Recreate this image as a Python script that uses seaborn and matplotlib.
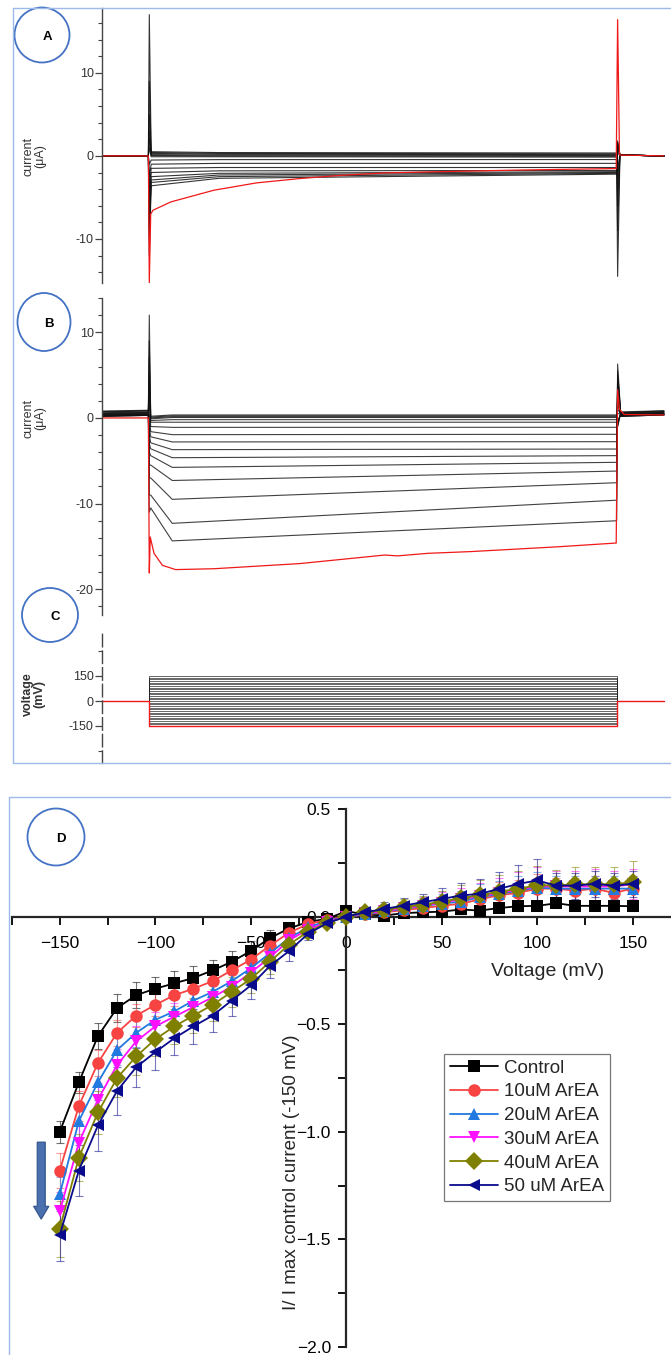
import matplotlib
matplotlib.use("Agg")
import matplotlib.pyplot as plt
from matplotlib.lines import Line2D
from matplotlib.patches import Ellipse, FancyArrow
from matplotlib.ticker import MultipleLocator
import pandas as pd
import seaborn as sns

W, H = 671, 1355

# ---------------- panel A: current traces (control) ----------------
# distinct black sweeps: onset spike, level after spike, level at 250 ms, level at end, offset spike
a_on = [17.0, 9.0, 5.0, 3.0, 2.0, 1.0, -1.0, -2.5, -4.0, -5.5, -7.0, -8.5, -10.0, -12.0]
a_start = [0.5, 0.4, 0.3, 0.15, 0.05, -0.1, -0.5, -1.0, -1.5, -2.0, -2.5, -2.9, -3.2, -3.6]
a_mid = [0.4, 0.3, 0.2, 0.1, 0.0, -0.1, -0.45, -0.9, -1.4, -1.8, -2.1, -2.3, -2.5, -2.7]
a_end = [0.35, 0.25, 0.15, 0.05, -0.05, -0.15, -0.44, -0.9, -1.4, -1.75, -1.9, -2.0, -2.1, -2.2]
a_off = [-14.5, -9.0, -6.0, -4.0, -2.5, -1.5, 0.3, 0.8, 1.2, 1.5, 1.8, 1.6, 1.4, 1.2]
# red sweep (-150 mV)
red_a_t = [0, 99, 101, 104, 109, 147, 239, 330, 422, 513, 604, 696, 879, 1098, 1101, 1105, 1200]
red_a_i = [0, 0, -15.3, -7.0, -6.54, -5.54, -4.13, -3.25, -2.73, -2.33, -2.05, -1.93, -1.72, -1.52, 16.4, 0.1, 0]

# ---------------- panel B: current traces (ArEA) ----------------
b_pre = [0.8, 0.75, 0.7, 0.6, 0.55, 0.5, 0.45, 0.4, 0.35, 0.3, 0.3, 0.25, 0.25, 0.2, 0.2, 0.2]
b_on = [12.0, 9.0, 7.0, 5.0, 3.5, 2.5, 1.5, 0.5, -1.0, -2.0, -3.0, -4.0, -5.5, -7.0, -9.0, -11.0]
b_start = [0.2, 0.1, 0.0, -0.1, -0.3, -0.5, -1.0, -1.6, -2.2, -2.9, -3.6, -4.4, -5.5, -7.0, -9.0, -10.5]
b_min = [0.35, 0.25, 0.15, 0.05, -0.2, -0.5, -1.1, -1.95, -2.8, -3.7, -4.64, -5.77, -7.3, -9.5, -12.3, -14.35]
b_end = [0.35, 0.25, 0.15, 0.05, -0.2, -0.5, -1.09, -1.91, -2.77, -3.63, -4.4, -5.18, -6.2, -7.56, -9.6, -12.0]
b_off = [-1.0, -1.0, -0.5, -0.5, 0.5, 1.0, 1.5, 2.0, 2.5, 3.0, 3.5, 4.0, 4.5, 5.0, 5.5, 6.3]
b_post = [0.7, 0.65, 0.6, 0.55, 0.5, 0.45, 0.4, 0.35, 0.3, 0.3, 0.3, 0.25, 0.25, 0.2, 0.2, 0.2]
red_b_t = [0, 99, 101, 103, 111, 129, 157, 239, 422, 604, 631, 696, 787, 970, 1098, 1101, 1105, 1115, 1200]
red_b_i = [0, 0, -18.1, -13.9, -15.8, -17.2, -17.7, -17.6, -17.0, -16.0, -16.1, -15.8, -15.6, -15.05, -14.6, 3.3, 1.0, 0.4, 0.35]

# ---------------- panel D: normalised I/V ----------------
voltage = [-150, -140, -130, -120, -110, -100, -90, -80, -70, -60, -50, -40, -30, -20, -10, 0,
           10, 20, 30, 40, 50, 60, 70, 80, 90, 100, 110, 120, 130, 140, 150]
control = [-1.00, -0.77, -0.555, -0.425, -0.365, -0.335, -0.31, -0.285, -0.25, -0.21, -0.16, -0.10, -0.055, -0.025, -0.01,
           0.025, 0.01, 0.005, 0.016, 0.02, 0.023, 0.033, 0.028, 0.04, 0.048, 0.05, 0.062, 0.05, 0.05, 0.05, 0.048]
arEA10 = [-1.18, -0.88, -0.68, -0.54, -0.46, -0.41, -0.365, -0.335, -0.30, -0.25, -0.20, -0.135, -0.075, -0.035, -0.015,
          0.0, 0.01, 0.02, 0.03, 0.04, 0.05, 0.06, 0.08, 0.10, 0.11, 0.13, 0.13, 0.12, 0.13, 0.11, 0.13]
arEA20 = [-1.29, -0.95, -0.77, -0.62, -0.54, -0.48, -0.44, -0.39, -0.35, -0.30, -0.24, -0.17, -0.10, -0.05, -0.02,
          0.0, 0.01, 0.025, 0.035, 0.05, 0.06, 0.07, 0.09, 0.105, 0.12, 0.135, 0.13, 0.13, 0.13, 0.13, 0.13]
arEA30 = [-1.37, -1.05, -0.85, -0.69, -0.58, -0.51, -0.465, -0.42, -0.375, -0.325, -0.26, -0.19, -0.11, -0.06, -0.025,
          0.0, 0.015, 0.025, 0.04, 0.05, 0.065, 0.08, 0.095, 0.11, 0.125, 0.14, 0.14, 0.14, 0.14, 0.14, 0.15]
arEA40 = [-1.45, -1.12, -0.91, -0.75, -0.65, -0.57, -0.51, -0.46, -0.41, -0.35, -0.29, -0.21, -0.13, -0.07, -0.03,
          0.0, 0.02, 0.03, 0.045, 0.055, 0.07, 0.085, 0.10, 0.115, 0.13, 0.145, 0.145, 0.15, 0.15, 0.15, 0.16]
arEA50 = [-1.48, -1.18, -0.97, -0.81, -0.70, -0.63, -0.565, -0.51, -0.46, -0.39, -0.32, -0.23, -0.16, -0.08, -0.03,
          0.0, 0.02, 0.036, 0.051, 0.067, 0.082, 0.098, 0.106, 0.129, 0.152, 0.168, 0.144, 0.144, 0.152, 0.144, 0.152]

ctrl_err = [0.05, 0.05, 0.06, 0.065, 0.06, 0.055, 0.055, 0.055, 0.05, 0.05, 0.045, 0.04, 0.03, 0.02, 0.015,
            0.01, 0.01, 0.01, 0.015, 0.015, 0.02, 0.02, 0.02, 0.02, 0.02, 0.02, 0.02, 0.02, 0.02, 0.02, 0.02]
err10 = [0.08, 0.07, 0.06, 0.06, 0.055, 0.05, 0.05, 0.05, 0.05, 0.045, 0.045, 0.04, 0.03, 0.02, 0.015,
         0.01, 0.01, 0.02, 0.03, 0.03, 0.04, 0.05, 0.05, 0.06, 0.06, 0.07, 0.05, 0.06, 0.06, 0.06, 0.06]
err20 = [0.08, 0.075, 0.07, 0.07, 0.065, 0.06, 0.06, 0.06, 0.06, 0.055, 0.05, 0.045, 0.035, 0.025, 0.015,
         0.01, 0.015, 0.02, 0.03, 0.035, 0.045, 0.05, 0.06, 0.06, 0.07, 0.07, 0.06, 0.06, 0.06, 0.06, 0.06]
err30 = [0.09, 0.08, 0.075, 0.075, 0.07, 0.065, 0.065, 0.065, 0.06, 0.06, 0.055, 0.05, 0.04, 0.03, 0.02,
         0.01, 0.015, 0.02, 0.03, 0.04, 0.05, 0.055, 0.06, 0.07, 0.08, 0.09, 0.07, 0.07, 0.08, 0.07, 0.07]
err40 = [0.13, 0.11, 0.1, 0.09, 0.085, 0.08, 0.08, 0.08, 0.075, 0.07, 0.065, 0.055, 0.04, 0.03, 0.02,
         0.01, 0.02, 0.03, 0.035, 0.04, 0.05, 0.06, 0.07, 0.08, 0.08, 0.09, 0.07, 0.08, 0.08, 0.08, 0.1]
err50 = [0.12, 0.12, 0.12, 0.11, 0.09, 0.085, 0.08, 0.08, 0.075, 0.07, 0.065, 0.055, 0.045, 0.03, 0.02,
         0.01, 0.02, 0.03, 0.035, 0.04, 0.05, 0.06, 0.07, 0.08, 0.09, 0.1, 0.06, 0.06, 0.06, 0.06, 0.06]

groups = ["Control", "10uM ArEA", "20uM ArEA", "30uM ArEA", "40uM ArEA", "50 uM ArEA"]
means = [control, arEA10, arEA20, arEA30, arEA40, arEA50]
errs = [ctrl_err, err10, err20, err30, err40, err50]
colors = ["#000000", "#F84343", "#2279E0", "#FF10FF", "#808000", "#0A0A8C"]
markers = ["s", "o", "^", "v", "D", "<"]

sns.set_style("ticks")
plt.rcParams["font.family"] = ["Liberation Sans", "DejaVu Sans"]


def frect(x0, y0, x1, y1):
    return [x0 / W, 1 - y1 / H, (x1 - x0) / W, (y1 - y0) / H]


def fxy(x, y):
    return (x / W, 1 - y / H)


def trace_style(ax, lims, major, minor, labels):
    ax.set_xlim(0, 1215)
    ax.set_ylim(*lims)
    for s in ["top", "right", "bottom"]:
        ax.spines[s].set_visible(False)
    ax.spines["left"].set_color("#444444")
    ax.spines["left"].set_linewidth(1.0)
    ax.set_xticks([])
    ax.set_yticks(major)
    ax.set_yticklabels(labels)
    ax.yaxis.set_minor_locator(MultipleLocator(minor))
    ax.tick_params(axis="y", which="major", length=5, width=0.9, colors="#444444",
                   labelsize=9, labelcolor="#333333", pad=1)
    ax.tick_params(axis="y", which="minor", length=3, width=0.8, colors="#444444")
    ax.set_xlabel("")
    ax.set_ylabel("")
    ax.patch.set_alpha(0)


fig = plt.figure(figsize=(W / 100, H / 100), dpi=100)

# ---- panel A
rows = []
for k in range(len(a_end)):
    t = [0, 99, 101, 105, 250, 1099, 1101, 1106, 1200]
    v = [0, 0, a_on[k], a_start[k], a_mid[k], a_end[k], a_off[k], 0.1, 0]
    rows.append(pd.DataFrame({"t": t, "i": v, "sweep": k}))
dfA = pd.concat(rows)
axA = fig.add_axes(frect(102, 8, 671, 283))
sns.lineplot(data=dfA, x="t", y="i", units="sweep", estimator=None, sort=False,
             color="#111111", lw=0.8, alpha=0.85, ax=axA, legend=False)
sns.lineplot(x=red_a_t, y=red_a_i, sort=False, estimator=None, color="#F01818", lw=0.9, ax=axA)
trace_style(axA, (-15.3, 17.8), [-10, 0, 10], 2, ["-10", "0", "10"])

# ---- panel B
rows = []
for k in range(len(b_end)):
    t = [0, 99, 101, 104, 150, 1099, 1101, 1108, 1200]
    v = [b_pre[k], b_pre[k] + 0.1, b_on[k], b_start[k], b_min[k], b_end[k], b_off[k],
         b_post[k], b_post[k] + 0.15]
    rows.append(pd.DataFrame({"t": t, "i": v, "sweep": k}))
dfB = pd.concat(rows)
axB = fig.add_axes(frect(102, 298, 671, 615))
sns.lineplot(data=dfB, x="t", y="i", units="sweep", estimator=None, sort=False,
             color="#111111", lw=0.8, alpha=0.8, ax=axB, legend=False)
sns.lineplot(x=red_b_t, y=red_b_i, sort=False, estimator=None, color="#F01818", lw=0.9, ax=axB)
trace_style(axB, (-23.0, 14.0), [-20, -10, 0, 10], 2, ["-20", "-10", "0", "10"])

# ---- panel C: voltage protocol (same steps as the I/V voltages)
rows = []
for k, vstep in enumerate(voltage[1:]):
    rows.append(pd.DataFrame({"t": [0, 100, 100, 1100, 1100, 1200],
                              "v": [0, 0, vstep, vstep, 0, 0], "sweep": k}))
dfC = pd.concat(rows)
axC = fig.add_axes(frect(102, 633, 671, 763))
sns.lineplot(data=dfC, x="t", y="v", units="sweep", estimator=None, sort=False,
             color="#222222", lw=0.6, alpha=0.8, ax=axC, legend=False)
sns.lineplot(x=[0, 100, 100, 1100, 1100, 1200], y=[0, 0, voltage[0], voltage[0], 0, 0],
             sort=False, estimator=None, color="#F01818", lw=1.0, ax=axC)
trace_style(axC, (-372, 408), [-150, 0, 150], 150, ["-150", "0", "150"])
axC.set_yticks([-300, 300], minor=True)
axC.spines["left"].set_linestyle((0, (9, 3)))

for ylab, cy in [("current\n(\u03bcA)", 156), ("current\n(\u03bcA)", 418)]:
    fig.text(*fxy(34, cy), ylab, rotation=90, ha="center", va="center",
             fontsize=9, color="#333333", linespacing=0.95)
fig.text(*fxy(34, 694), "voltage\n(mV)", rotation=90, ha="center", va="center",
         fontsize=9, color="#333333", fontweight="bold", linespacing=0.95)

# ---- panel D
dfD = pd.concat([pd.DataFrame({"voltage": voltage, "value": m, "group": g})
                 for g, m in zip(groups, means)])
axD = fig.add_axes(frect(12, 809, 671, 1347))
for g, m, e, c in zip(groups, means, errs, colors):
    axD.errorbar(voltage, m, yerr=e, fmt="none", ecolor=c, elinewidth=0.8,
                 capsize=3, capthick=0.8, alpha=0.55, zorder=1.5)
sns.lineplot(data=dfD, x="voltage", y="value", hue="group", style="group",
             hue_order=groups, style_order=groups,
             palette=dict(zip(groups, colors)), markers=dict(zip(groups, markers)),
             dashes=False, markersize=9, markeredgewidth=0, linewidth=1.3,
             legend=False, ax=axD, zorder=3)
axD.set_xlim(-175, 170)
axD.set_ylim(-2.0, 0.5)
axD.spines["left"].set_position(("data", 0))
axD.spines["bottom"].set_position(("data", 0))
axD.spines["top"].set_visible(False)
axD.spines["right"].set_visible(False)
for s in ["left", "bottom"]:
    axD.spines[s].set_linewidth(1.6)
axD.set_xticks([-150, -100, -50, 0, 50, 100, 150])
axD.xaxis.set_minor_locator(MultipleLocator(25))
axD.set_yticks([-2.0, -1.5, -1.0, -0.5, 0.0, 0.5])
axD.yaxis.set_minor_locator(MultipleLocator(0.25))
axD.tick_params(axis="both", which="both", direction="out", width=1.3, length=6,
                labelsize=12.5, colors="black")
axD.tick_params(axis="x", pad=8)
axD.tick_params(axis="y", pad=5)
axD.set_xlabel("")
axD.set_ylabel("")
axD.patch.set_alpha(0)

fig.text(*fxy(548, 971), "Voltage (mV)", ha="center", va="center", fontsize=14)
fig.text(*fxy(291, 1172), "I/ I max control current (-150 mV)", rotation=90,
         ha="center", va="center", fontsize=13.5)

handles = [Line2D([0], [0], color=c, marker=mk, markersize=9, markeredgewidth=0, lw=1.3)
           for c, mk in zip(colors, markers)]
leg = axD.legend(handles, groups, loc="upper left", bbox_to_anchor=fxy(444, 1054),
                 bbox_transform=fig.transFigure, borderaxespad=0, frameon=True,
                 fancybox=False, edgecolor="#555555", fontsize=13.5, handlelength=2.6,
                 handletextpad=0.3, labelspacing=0.35, borderpad=0.3)
leg.get_frame().set_linewidth(0.9)

axD.add_patch(FancyArrow(-159.7, -1.048, 0, -0.358, width=4.2, head_width=8.0,
                         head_length=0.06, length_includes_head=True,
                         fc="#4A70B0", ec="#2F5088", lw=0.8, zorder=4))

# ---- frames and panel letters
frame = "#9DBBE6"
fig.add_artist(Line2D([12.5 / W, 1], [1 - 8 / H, 1 - 8 / H], color=frame, lw=1.0))
fig.add_artist(Line2D([12.5 / W, 12.5 / W], [1 - 8 / H, 1 - 763 / H], color=frame, lw=1.0))
fig.add_artist(Line2D([12.5 / W, 1], [1 - 763 / H, 1 - 763 / H], color=frame, lw=1.0))
fig.add_artist(Line2D([8.5 / W, 1], [1 - 797 / H, 1 - 797 / H], color=frame, lw=1.0))
fig.add_artist(Line2D([8.5 / W, 8.5 / W], [1 - 797 / H, 0], color=frame, lw=1.0))

for letter, cx, cy, w, h in [("A", 42, 35, 55, 55), ("B", 44, 322, 53, 58),
                             ("C", 50, 615, 56, 54), ("D", 56, 837, 57, 57)]:
    fig.add_artist(Ellipse(fxy(cx, cy), w / W, h / H, transform=fig.transFigure,
                           fill=False, ec="#4472C4", lw=1.3))
    fig.text(*fxy(cx + 5, cy + 2), letter, ha="center", va="center",
             fontsize=9.5, fontweight="bold", color="black")

fig.savefig("out.png", dpi=100)
